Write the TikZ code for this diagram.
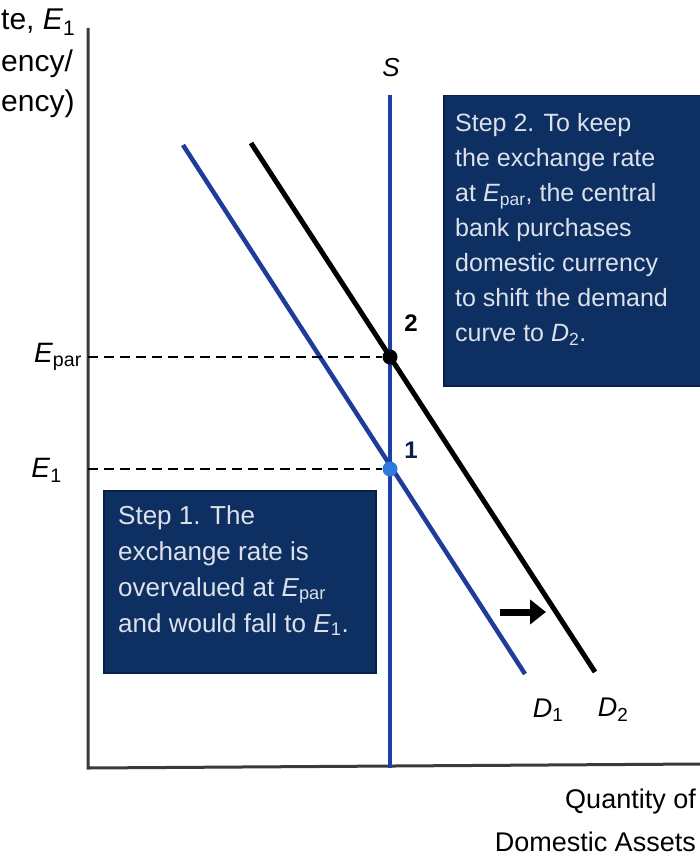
\documentclass[tikz,border=0pt]{standalone}
\usepackage{fontspec}
\setmainfont{Liberation Sans}
\usetikzlibrary{arrows.meta}
\definecolor{navy}{HTML}{0E2F62}
\definecolor{navyedge}{HTML}{08204A}
\definecolor{boxtext}{HTML}{DCE1EA}
\definecolor{sblue}{HTML}{1B3FA6}
\definecolor{dblue}{HTML}{1E3C9A}
\definecolor{ptblue}{HTML}{2F78DC}
\definecolor{axisgray}{HTML}{3A3A3A}
\newcommand{\mysub}[2]{\textit{#1}\textsubscript{#2}}
\tikzset{
  axisline/.style={line width=3pt, draw=axisgray},
  guide/.style={line width=2pt, dashed, dash pattern=on 10pt off 6pt},
  stepbox/.style={fill=navy, draw=navyedge, line width=1.5pt, anchor=north west, inner sep=0pt},
  boxtxt/.style={anchor=north west, text=boxtext, align=left, inner sep=0pt},
  lbl/.style={font=\fontsize{28}{32}\selectfont, inner sep=0pt},
}
\begin{document}
\begin{tikzpicture}[x=1pt,y=-1pt]
\useasboundingbox (0,0) rectangle (700,864);
% axes
\coordinate (O) at (88,768);
\coordinate (Ytop) at (88,28);
\coordinate (Xend) at (700,764);
\draw[axisline] (Ytop) -- (O) -- (Xend);
% y-axis label (as visible)
\node[lbl, anchor=west, font=\fontsize{30}{34}\selectfont] (ylab1) at (1,22) {te, \mysub{E}{1}};
\node[lbl, anchor=west, font=\fontsize{30}{34}\selectfont] (ylab2) at (1,64) {ency/};
\node[lbl, anchor=west, font=\fontsize{30}{34}\selectfont] (ylab3) at (1,104) {ency)};
% S line
\coordinate (Stop) at (390,95);
\coordinate (Sbot) at (390,768);
\draw[line width=4pt, draw=sblue] (Stop) -- (Sbot);
\node[lbl, font=\fontsize{26}{30}\selectfont\itshape] (Slab) at (391,68) {S};
% demand curves
\coordinate (D1a) at (183,145);
\coordinate (D1b) at (525,674);
\draw[line width=4.5pt, draw=dblue] (D1a) -- (D1b);
\coordinate (D2a) at (251,143);
\coordinate (D2b) at (595,672);
\draw[line width=5pt, draw=black] (D2a) -- (D2b);
\node[lbl, font=\fontsize{27}{30}\selectfont] (D1lab) at (548,710) {\mysub{D}{1}};
\node[lbl, font=\fontsize{27}{30}\selectfont] (D2lab) at (613,710) {\mysub{D}{2}};
% points
\coordinate (Ep) at (88,357);
\coordinate (E1) at (88,469);
\node[circle, fill=black, inner sep=0pt, minimum size=15pt] (P2) at (390,357) {};
\node[circle, fill=ptblue, inner sep=0pt, minimum size=15pt] (P1) at (390,469) {};
\draw[guide] (Ep) -- (P2.west);
\draw[guide] (E1) -- (P1.west);
\node[lbl, font=\fontsize{24}{28}\selectfont\bfseries] (n2) at (411,323) {2};
\node[lbl, font=\fontsize{24}{28}\selectfont\bfseries, text=navyedge] (n1) at (411,450) {1};
\node[lbl, anchor=east] (Eparlab) at (82,357) {\mysub{E}{par}};
\node[lbl, anchor=east] (E1lab) at (62,470) {\mysub{E}{1}};
% shift arrow
\coordinate (Aa) at (500,612);
\coordinate (Ab) at (546,612);
\draw[line width=7pt, -{Triangle[length=16pt,width=24pt]}] (Aa) -- (Ab);
% step boxes
\node[stepbox, minimum width=257pt, minimum height=290pt] (box2) at (443,95) {};
\node[boxtxt, font=\fontsize{25}{35}\selectfont] (t2) at (455,113)
 {Step 2. To keep\\the exchange rate\\at \mysub{E}{par}, the central\\bank purchases\\domestic currency\\to shift the demand\\curve to \mysub{D}{2}.};
\node[stepbox, minimum width=272pt, minimum height=182pt] (box1) at (103,490) {};
\node[boxtxt, font=\fontsize{26}{36}\selectfont] (t1) at (118,505)
 {Step 1. The\\exchange rate is\\overvalued at \mysub{E}{par}\\and would fall to \mysub{E}{1}.};
% x-axis label
\node[lbl, anchor=north east, align=right, font=\fontsize{27}{43}\selectfont] (xlab) at (696,789) {Quantity of\\Domestic Assets};
\end{tikzpicture}
\end{document}
